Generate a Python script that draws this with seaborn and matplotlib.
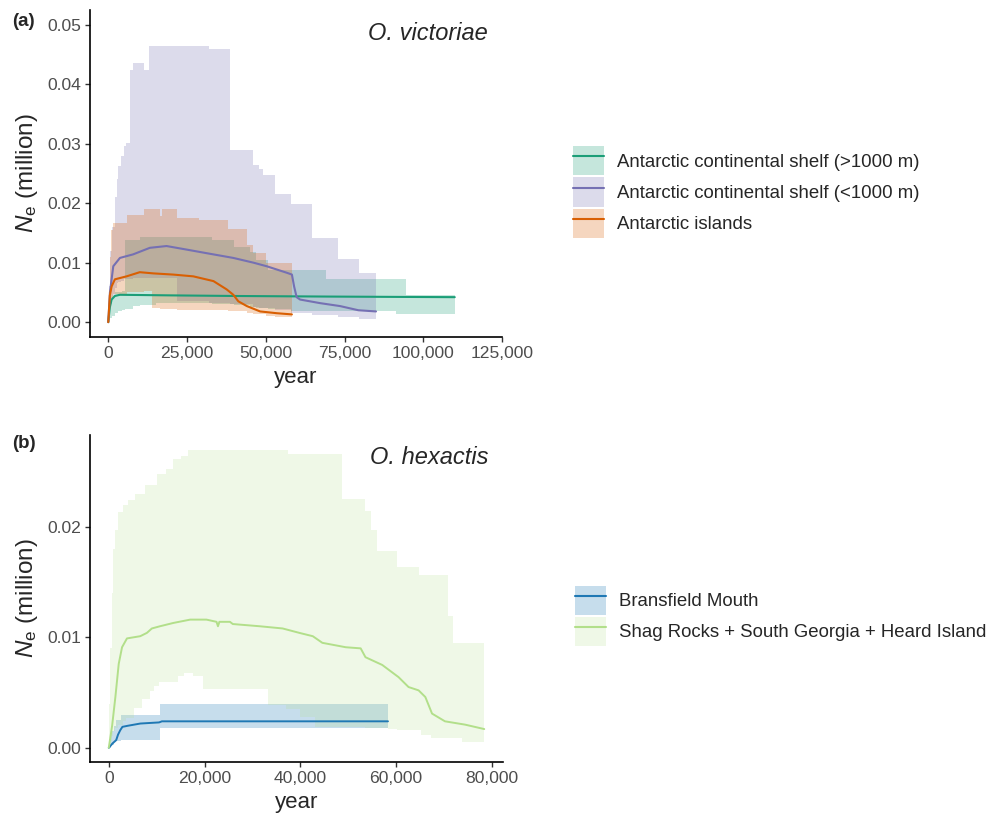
import numpy as np
import pandas as pd
import matplotlib
matplotlib.use("Agg")
import matplotlib.pyplot as plt
import seaborn as sns
from matplotlib.patches import Patch
from matplotlib.lines import Line2D
from matplotlib.ticker import FuncFormatter

# ---------------- Panel (a) data: O. victoriae ----------------
labels_a = ["Antarctic continental shelf (>1000 m)",
            "Antarctic continental shelf (<1000 m)",
            "Antarctic islands"]
colors_a = ["#1B9E77", "#7570B3", "#D95F02"]

# ribbons (step functions)
deep_band_x = [0, 300, 700, 1200, 2000, 3000, 4500, 5200, 8000, 10000, 15000, 33000, 40000,
               45000, 47000, 50600, 58000, 69100, 91500, 94500, 110000]
deep_band_hi = [0.0, 0.002, 0.0035, 0.0045, 0.005, 0.005, 0.0052, 0.0138, 0.0138, 0.0144, 0.0144,
                0.0138, 0.0126, 0.0118, 0.0105, 0.0088, 0.0088, 0.0072, 0.0072, 0.0046, 0.0046]
deep_band_lo = [0.0, 0.0003, 0.0007, 0.0011, 0.0015, 0.0018, 0.0021, 0.0022, 0.0027, 0.0029, 0.0032,
                0.0031, 0.0029, 0.0026, 0.0024, 0.0022, 0.0019, 0.0019, 0.0013, 0.0013, 0.0013]

shallow_band_x = [0, 300, 700, 1200, 2000, 2800, 3100, 3900, 5000, 5500, 6800, 7700, 11300, 12800,
                  21700, 32000, 38700, 46000, 48000, 49100, 53000, 58000, 64600, 73000, 79500, 85000]
shallow_band_hi = [0.0, 0.006, 0.012, 0.016, 0.021, 0.024, 0.0262, 0.0279, 0.0297, 0.0302, 0.0424,
                   0.0436, 0.0424, 0.0464, 0.0464, 0.046, 0.029, 0.0264, 0.0257, 0.0248, 0.0216,
                   0.0199, 0.0142, 0.0106, 0.0083, 0.0083]
shallow_band_lo = [0.0, 0.001, 0.003, 0.0045, 0.0058, 0.0065, 0.0068, 0.007, 0.0072, 0.0072, 0.0073,
                   0.0074, 0.0074, 0.0074, 0.0035, 0.0033, 0.003, 0.0026, 0.0024, 0.0023, 0.002,
                   0.0016, 0.0012, 0.0009, 0.0006, 0.0005]

island_band_x = [0, 300, 700, 1000, 1600, 6000, 11500, 14000, 16500, 17200, 21800, 28800, 38000,
                 44000, 46000, 50000, 53000, 58300]
island_band_hi = [0.0, 0.005, 0.011, 0.0155, 0.0167, 0.018, 0.019, 0.019, 0.0178, 0.019, 0.0175,
                  0.0172, 0.0156, 0.013, 0.0116, 0.0100, 0.0100, 0.0100]
island_band_lo = [0.0, 0.0015, 0.003, 0.004, 0.0048, 0.0051, 0.0052, 0.0023, 0.0022, 0.0022, 0.0021,
                  0.002, 0.0018, 0.0015, 0.0014, 0.0011, 0.0008, 0.0004]

# median lines
deep_x = [0, 500, 1060, 2100, 3700, 20000, 40000, 70000, 110000]
deep_y = [0.0, 0.0025, 0.0038, 0.0044, 0.0046, 0.0045, 0.0044, 0.0043, 0.0042]

shallow_x = [0, 530, 1590, 3700, 7900, 13200, 18500, 24900, 31200, 39700, 46100, 50300, 56700,
             58300, 59000, 59800, 60900, 67200, 73600, 79400, 85000]
shallow_y = [0.0, 0.005, 0.0094, 0.0108, 0.0114, 0.0125, 0.0128, 0.0122, 0.0116, 0.0108, 0.0100,
             0.0094, 0.0083, 0.0080, 0.006, 0.0042, 0.0038, 0.0032, 0.0027, 0.002, 0.0018]

island_x = [0, 500, 1060, 2100, 5800, 10000, 14300, 20600, 27000, 33400, 37600, 39700, 41300,
            44000, 48200, 53500, 58300]
island_y = [0.0, 0.0045, 0.006, 0.0072, 0.0077, 0.0084, 0.0082, 0.008, 0.0077, 0.0069, 0.0055,
            0.0046, 0.0035, 0.0027, 0.0018, 0.0015, 0.0013]

# ---------------- Panel (b) data: O. hexactis ----------------
labels_b = ["Bransfield Mouth", "Shag Rocks + South Georgia + Heard Island"]
colors_b = ["#1F78B4", "#B2DF8A"]

bransfield_band_x = [0, 500, 1000, 1500, 2500, 10700, 58300]
bransfield_band_hi = [0.0008, 0.0015, 0.002, 0.0025, 0.003, 0.004, 0.004]
bransfield_band_lo = [0.0, 0.0003, 0.0005, 0.0006, 0.0007, 0.0018, 0.0018]

shag_band_x = [0, 300, 600, 900, 1200, 2000, 3000, 3700, 4000, 5300, 5500, 6900, 7500, 8550, 9500,
               10000, 10500, 12000, 13500, 14400, 15000, 15700, 16600, 17600, 19600, 33200, 37000,
               37400, 40000, 43000, 48600, 53500, 54800, 56100, 58300, 60100, 64700, 65300, 67300,
               70900, 71900, 73800, 78400]
shag_band_hi = [0.004, 0.009, 0.014, 0.018, 0.0197, 0.0213, 0.022, 0.022, 0.0224, 0.0224, 0.023,
                0.023, 0.0238, 0.0238, 0.0238, 0.0248, 0.0248, 0.0252, 0.0261, 0.0261, 0.0264,
                0.0264, 0.0269, 0.0269, 0.0269, 0.0269, 0.0269, 0.0266, 0.0266, 0.0266, 0.0225,
                0.0214, 0.0197, 0.0178, 0.0178, 0.0164, 0.0156, 0.0156, 0.0156, 0.0119, 0.0095,
                0.0095, 0.0095]
shag_band_lo = [0.0, 0.0006, 0.0011, 0.0015, 0.0018, 0.0021, 0.0024, 0.0027, 0.0027, 0.0036, 0.0036,
                0.0044, 0.0044, 0.0051, 0.0056, 0.0056, 0.006, 0.006, 0.006, 0.0065, 0.0065, 0.0068,
                0.0068, 0.0065, 0.0053, 0.0039, 0.0035, 0.0035, 0.0028, 0.0019, 0.0019, 0.0018,
                0.0018, 0.0018, 0.0017, 0.0016, 0.0016, 0.0012, 0.0009, 0.0009, 0.0009, 0.0005,
                0.0005]

bransfield_x = [0, 780, 1550, 1940, 2400, 2850, 4000, 6600, 10500, 11100, 58300]
bransfield_y = [0.0, 0.0004, 0.0007, 0.0012, 0.0016, 0.0019, 0.002, 0.0022, 0.0023, 0.0024, 0.0024]

shag_x = [0, 700, 1380, 2080, 2770, 3800, 6570, 7960, 9000, 10700, 13500, 17000, 20400, 22500,
          22800, 23100, 25300, 25900, 31500, 36300, 39800, 42600, 44600, 49500, 52600, 53600,
          57100, 60500, 62600, 64700, 66100, 67500, 70200, 74400, 78400]
shag_y = [0.0, 0.002, 0.0046, 0.0076, 0.0091, 0.0099, 0.0101, 0.0104, 0.0108, 0.011, 0.0113,
          0.0116, 0.0116, 0.0114, 0.0110, 0.0114, 0.0114, 0.0112, 0.011, 0.0108, 0.0104, 0.0101,
          0.0095, 0.0091, 0.009, 0.0082, 0.0075, 0.0064, 0.0055, 0.0052, 0.0046, 0.0031, 0.0024,
          0.0021, 0.0017]

x_ticks_a = [0, 25000, 50000, 75000, 100000, 125000]
y_ticks_a = [0.00, 0.01, 0.02, 0.03, 0.04, 0.05]
x_ticks_b = [0, 20000, 40000, 60000, 80000]
y_ticks_b = [0.00, 0.01, 0.02]

# ---------------- styling ----------------
sns.set_style("ticks")
plt.rcParams["font.family"] = ["Liberation Sans", "DejaVu Sans"]
plt.rcParams["mathtext.fontset"] = "custom"
plt.rcParams["mathtext.rm"] = "Liberation Sans"
plt.rcParams["mathtext.it"] = "Liberation Sans:italic"

W, H = 991, 817
fig = plt.figure(figsize=(W / 100, H / 100), dpi=100)

def fx(px):
    return px / W

def fy(py):
    return 1 - py / H

ax_a = fig.add_axes([fx(90), fy(337), fx(502) - fx(90), fy(10) - fy(337)])
ax_b = fig.add_axes([fx(90), fy(762), fx(503) - fx(90), fy(435) - fy(762)])

alphas_a = [0.25, 0.25, 0.25]
alphas_b = [0.25, 0.2]

def draw_panel(ax, bands, lines, labels, colors, alphas, lw):
    for (bx, blo, bhi), col, al in zip(bands, colors, alphas):
        ax.fill_between(bx, blo, bhi, step="post", color=col, alpha=al, linewidth=0)
    frames = []
    for (lx, ly), lab in zip(lines, labels):
        frames.append(pd.DataFrame({"year": lx, "Ne": ly, "group": lab}))
    df = pd.concat(frames, ignore_index=True)
    sns.lineplot(data=df, x="year", y="Ne", hue="group", hue_order=labels,
                 palette=dict(zip(labels, colors)), estimator=None, sort=False,
                 linewidth=lw, legend=False, ax=ax)

draw_panel(ax_a,
           [(deep_band_x, deep_band_lo, deep_band_hi),
            (shallow_band_x, shallow_band_lo, shallow_band_hi),
            (island_band_x, island_band_lo, island_band_hi)],
           [(deep_x, deep_y), (shallow_x, shallow_y), (island_x, island_y)],
           labels_a, colors_a, alphas_a, 1.5)

draw_panel(ax_b,
           [(bransfield_band_x, bransfield_band_lo, bransfield_band_hi),
            (shag_band_x, shag_band_lo, shag_band_hi)],
           [(bransfield_x, bransfield_y), (shag_x, shag_y)],
           labels_b, colors_b, alphas_b, 1.4)

ax_a.set_xlim(-5800, 125000)
ax_a.set_ylim(-0.0025, 0.0525)
ax_b.set_xlim(-3920, 82320)
ax_b.set_ylim(-0.00128, 0.0283)

for ax, xt, yt in [(ax_a, x_ticks_a, y_ticks_a), (ax_b, x_ticks_b, y_ticks_b)]:
    ax.set_xticks(xt)
    ax.set_yticks(yt)
    ax.xaxis.set_major_formatter(FuncFormatter(lambda v, p: f"{v:,.0f}"))
    ax.yaxis.set_major_formatter(FuncFormatter(lambda v, p: f"{v:.2f}"))
    ax.tick_params(axis="both", labelsize=12.6, labelcolor="#4D4D4D", color="#333333",
                   length=3.5, width=1.0, pad=3)
    for s in ["left", "bottom"]:
        ax.spines[s].set_linewidth(1.2)
        ax.spines[s].set_color("black")
    sns.despine(ax=ax)
    ax.set_xlabel("year", fontsize=16, labelpad=4)
    ax.set_ylabel(r"$N_\mathrm{e}$ (million)", fontsize=17.5, labelpad=5)

fig.text(fx(12), fy(22), "(a)", fontsize=13.5, fontweight="bold", ha="left", va="center")
fig.text(fx(12), fy(443), "(b)", fontsize=13.5, fontweight="bold", ha="left", va="center")
fig.text(fx(488), fy(33), "O. victoriae", fontsize=17, style="italic", ha="right", va="center")
fig.text(fx(488), fy(457), "O. hexactis", fontsize=17, style="italic", ha="right", va="center")

def legend_handles(colors, alphas):
    return [(Patch(facecolor=c, alpha=a, edgecolor="none"),
             Line2D([], [], color=c, lw=1.5)) for c, a in zip(colors, alphas)]

leg_kw = dict(frameon=False, fontsize=13.4, handlelength=1.65, handleheight=2.05,
              handletextpad=0.72, labelspacing=0.1, borderpad=0, borderaxespad=0,
              loc="center left")
fig.legend(legend_handles(colors_a, alphas_a), labels_a, bbox_to_anchor=(fx(573), fy(192)), **leg_kw)
fig.legend(legend_handles(colors_b, alphas_b), labels_b, bbox_to_anchor=(fx(575), fy(616)), **leg_kw)

fig.savefig("out.png", dpi=100)
